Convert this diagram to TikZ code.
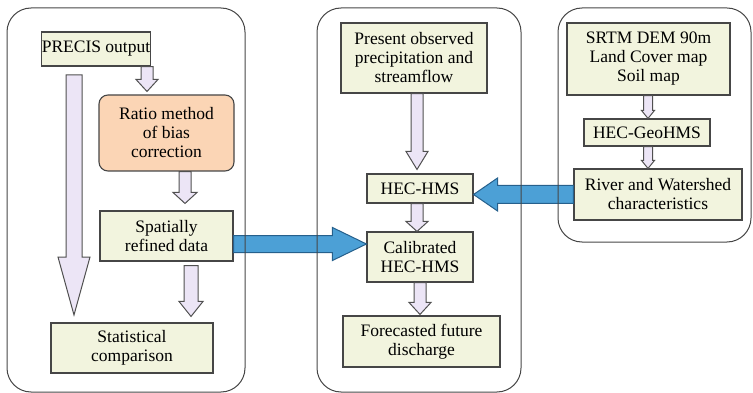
\documentclass[tikz,border=0pt]{standalone}
\usepackage{fontspec}
\setmainfont{Liberation Serif}
\usetikzlibrary{calc}

\definecolor{boxfill}{RGB}{242,244,222}
\definecolor{boxline}{RGB}{70,70,70}
\definecolor{corrfill}{RGB}{251,213,181}
\definecolor{flowfill}{RGB}{236,229,246}
\definecolor{flowline}{RGB}{80,80,80}
\definecolor{linkfill}{RGB}{76,160,214}
\definecolor{linkline}{RGB}{38,96,140}

\tikzset{
    stagebox/.style={draw=boxline, fill=boxfill, line width=1.1pt, align=center, inner sep=0pt,
        font=\fontsize{17.5}{19}\selectfont},
    corrbox/.style={stagebox, fill=corrfill, rounded corners=9pt},
    panel/.style={draw=boxline, line width=1pt, rounded corners=24pt},
    flowarrow/.style={draw=flowline, fill=flowfill, line width=1pt},
    linkarrow/.style={draw=linkline, fill=linkfill, line width=1pt},
}

% block arrow: style, from, to, half shaft, half head, head length
\newcommand{\fatarrow}[6]{%
    \coordinate (fas) at (#2);
    \coordinate (fae) at (#3);
    \coordinate (fah) at ($(fae)!#6!(fas)$);
    \draw[#1] ($(fas)!#4!90:(fae)$) -- ($(fah)!#4!-90:(fas)$) -- ($(fah)!#5!-90:(fas)$) -- (fae)
        -- ($(fah)!#5!90:(fas)$) -- ($(fah)!#4!90:(fas)$) -- ($(fas)!#4!-90:(fae)$) -- cycle;
}

\begin{document}
\begin{tikzpicture}[x=1pt, y=-1pt]

    \useasboundingbox (0,0) rectangle (753,393);

    % bias correction
    \node[stagebox, minimum width=108pt, minimum height=34pt] (precis) at (96,49) {PRECIS output};
    \node[corrbox, minimum width=135pt, minimum height=76pt] (ratio) at (166.5,133) {Ratio method\\of bias\\correction};
    \node[stagebox, minimum width=133pt, minimum height=50pt] (spatial) at (166.5,236) {Spatially\\refined data};
    \node[stagebox, minimum width=162pt, minimum height=50pt] (stat) at (132,348) {Statistical\\comparison};

    % hydrological model
    \node[stagebox, minimum width=146pt, minimum height=70pt] (present) at (414,58) {Present observed\\precipitation and\\streamflow};
    \node[stagebox, minimum width=106pt, minimum height=29pt] (hechms) at (420,188.5) {HEC-HMS};
    \node[stagebox, minimum width=106pt, minimum height=50pt] (calib) at (420,257) {Calibrated\\HEC-HMS};
    \node[stagebox, minimum width=157pt, minimum height=51pt] (forecast) at (421.5,341.5) {Forecasted future\\discharge};

    % catchment data
    \node[stagebox, minimum width=163pt, minimum height=72pt] (srtm) at (648.5,59) {SRTM DEM 90m\\Land Cover map\\Soil map};
    \node[stagebox, minimum width=126pt, minimum height=27pt] (geohms) at (647,132.5) {HEC-GeoHMS};
    \node[stagebox, minimum width=168pt, minimum height=51pt] (river) at (658,194.5) {River and Watershed\\characteristics};

    \coordinate (bigtop) at (74,75);
    \coordinate (bigbot) at (74,315);
    \fatarrow{flowarrow}{bigtop}{bigbot}{8pt}{16pt}{58pt}

    \fatarrow{flowarrow}{147,0 |- precis.south}{$(147,0 |- ratio.north)+(0,-3)$}{6pt}{11pt}{12pt}
    \fatarrow{flowarrow}{185,0 |- ratio.south}{$(185,0 |- spatial.north)+(0,-7)$}{6pt}{12pt}{11pt}
    \fatarrow{flowarrow}{$(191,0 |- spatial.south)+(0,4)$}{$(191,0 |- stat.north)+(0,-6)$}{7pt}{12pt}{15pt}

    \fatarrow{flowarrow}{417,0 |- present.south}{$(417,0 |- hechms.north)+(0,-4)$}{6pt}{11pt}{18pt}
    \fatarrow{flowarrow}{417,0 |- hechms.south}{417,0 |- calib.north}{6pt}{11pt}{10pt}
    \fatarrow{flowarrow}{420,0 |- calib.south}{$(420,0 |- forecast.north)+(0,-1)$}{6pt}{11pt}{12pt}

    \fatarrow{flowarrow}{648,0 |- srtm.south}{648,0 |- geohms.north}{4.5pt}{6.5pt}{8pt}
    \fatarrow{flowarrow}{648,0 |- geohms.south}{648,0 |- river.north}{4.5pt}{6.5pt}{8pt}

    \coordinate (link) at ($(spatial.east)+(0,8)$);
    \fatarrow{linkarrow}{link}{link -| calib.west}{8.5pt}{16.5pt}{34pt}
    \fatarrow{linkarrow}{river.west}{river.west -| hechms.east}{9pt}{16.5pt}{24pt}

    % panels on top of the links
    \draw[panel] (7,8) rectangle (245,392);
    \draw[panel] (317,8) rectangle (521,392);
    \draw[panel] (558,8) rectangle (751,242);

\end{tikzpicture}
\end{document}
